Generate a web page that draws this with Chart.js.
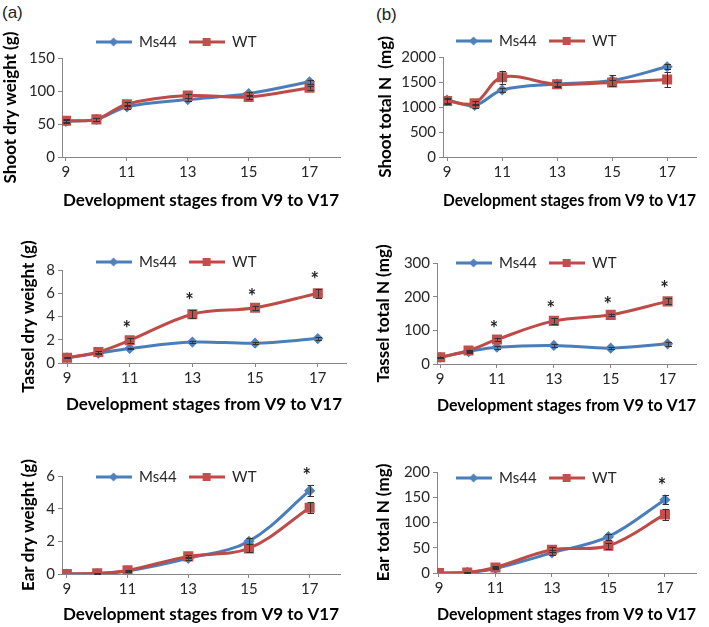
<!DOCTYPE html>
<html>
<head>
<meta charset="utf-8">
<script src="https://cdn.jsdelivr.net/npm/chart.js@4.4.1/dist/chart.umd.min.js"></script>
<style>
body{margin:0;background:#fff;width:709px;height:627px;position:relative;overflow:hidden;}
canvas{position:absolute;}
.tag{position:absolute;font-family:"Liberation Sans",Arial,sans-serif;font-size:17px;color:#222;line-height:20px;}
</style>
</head>
<body>
<div class="tag" style="left:2px;top:3px">(a)</div>
<div class="tag" style="left:376px;top:5px">(b)</div>
<canvas id="c_shoot_dw" width="354" height="210" style="left:0;top:0"></canvas>
<canvas id="c_shoot_n" width="355" height="210" style="left:354px;top:0"></canvas>
<canvas id="c_tassel_dw" width="354" height="205" style="left:0;top:210px"></canvas>
<canvas id="c_tassel_n" width="355" height="205" style="left:354px;top:210px"></canvas>
<canvas id="c_ear_dw" width="354" height="212" style="left:0;top:415px"></canvas>
<canvas id="c_ear_n" width="355" height="212" style="left:354px;top:415px"></canvas>
<script>
// -------- data
const stages = [9, 10, 11, 13, 15, 17];
const stage_ticks = [9, 11, 13, 15, 17];
const series_names = ['Ms44', 'WT'];
const x_title = 'Development stages from V9 to V17';

// shoot dry weight (g)
const shoot_dw_ms44 = [54, 57, 76, 87, 96, 114];
const shoot_dw_ms44_err = [2, 2, 3, 2, 3, 3];
const shoot_dw_wt = [55, 57, 80, 93, 91, 105];
const shoot_dw_wt_err = [2, 2, 3, 3, 3, 3];
const shoot_dw_sig = [];

// shoot total N (mg)
const shoot_n_ms44 = [1140, 1030, 1340, 1460, 1530, 1805];
const shoot_n_ms44_err = [50, 40, 40, 40, 110, 50];
const shoot_n_wt = [1120, 1075, 1595, 1455, 1490, 1550];
const shoot_n_wt_err = [50, 40, 130, 50, 60, 150];
const shoot_n_sig = [];

// tassel dry weight (g)
const tassel_dw_ms44 = [0.45, 0.85, 1.25, 1.8, 1.7, 2.1];
const tassel_dw_ms44_err = [0.05, 0.05, 0.08, 0.1, 0.1, 0.1];
const tassel_dw_wt = [0.45, 0.95, 1.95, 4.2, 4.75, 6.0];
const tassel_dw_wt_err = [0.05, 0.08, 0.2, 0.35, 0.18, 0.38];
const tassel_dw_sig = [11, 13, 15, 17];

// tassel total N (mg)
const tassel_n_ms44 = [20, 37, 50, 55, 47, 60];
const tassel_n_ms44_err = [2, 3, 4, 4, 3, 6];
const tassel_n_wt = [20, 40, 73, 128, 146, 186];
const tassel_n_wt_err = [2, 3, 5, 8, 4, 9];
const tassel_n_sig = [11, 13, 15, 17];

// ear dry weight (g)
const ear_dw_ms44 = [0, 0.03, 0.18, 0.96, 2.0, 5.1];
const ear_dw_ms44_err = [0, 0.01, 0.03, 0.08, 0.18, 0.32];
const ear_dw_wt = [0, 0.04, 0.22, 1.08, 1.57, 4.06];
const ear_dw_wt_err = [0, 0.01, 0.03, 0.08, 0.25, 0.34];
const ear_dw_sig = [17];

// ear total N (mg)
const ear_n_ms44 = [0, 1, 9, 40, 72, 145];
const ear_n_ms44_err = [0, 1, 2, 5, 6, 9];
const ear_n_wt = [0, 1, 11, 46, 54, 116];
const ear_n_wt_err = [0, 1, 2, 5, 6, 11];
const ear_n_sig = [17];

// -------- styles
const line_colors = ['#4A7EBB', '#BE4B48'];
const marker_colors = ['#4F81BD', '#C0504D'];
const marker_styles = ['rectRot', 'rect'];
const marker_sizes = [3.5, 5];
const axis_color = '#868686';
const text_color = '#262626';
const font_family = 'Lato, "Open Sans", sans-serif';
const title_size = 17;
const legend_size = 15;

function legend_icon(i){
	var c = document.createElement('canvas');
	c.width = 36; c.height = 12;
	var ctx = c.getContext('2d');
	ctx.strokeStyle = line_colors[i];
	ctx.lineWidth = 3;
	ctx.beginPath(); ctx.moveTo(0, 6); ctx.lineTo(36, 6); ctx.stroke();
	ctx.fillStyle = marker_colors[i];
	if(marker_styles[i] == 'rect'){
		ctx.fillRect(14, 2, 8, 8);
	} else {
		ctx.beginPath(); ctx.moveTo(18, 1.5); ctx.lineTo(22.5, 6); ctx.lineTo(18, 10.5); ctx.lineTo(13.5, 6); ctx.closePath(); ctx.fill();
	}
	return c;
}

// error bars + significance stars, drawn from the y scale
const error_bars = {
	id: 'error_bars',
	afterDatasetsDraw(chart, args, opts){
		var ctx = chart.ctx;
		var ys = chart.scales.y;
		ctx.save();
		ctx.strokeStyle = '#333';
		ctx.lineWidth = 1;
		chart.data.datasets.forEach(function(ds, i){
			var meta = chart.getDatasetMeta(i);
			meta.data.forEach(function(pt, j){
				var e = ds.err[j];
				if(!e) return;
				var v = ds.data[j].y;
				var top = ys.getPixelForValue(v + e);
				var bot = ys.getPixelForValue(v - e);
				var x = Math.round(pt.x) + 0.5;
				ctx.beginPath();
				ctx.moveTo(x, top); ctx.lineTo(x, bot);
				ctx.moveTo(x - 3, Math.round(top) + 0.5); ctx.lineTo(x + 3.5, Math.round(top) + 0.5);
				ctx.moveTo(x - 3, Math.round(bot) + 0.5); ctx.lineTo(x + 3.5, Math.round(bot) + 0.5);
				ctx.stroke();
			});
		});
		ctx.fillStyle = '#222';
		ctx.font = 'bold 20px ' + font_family;
		ctx.textAlign = 'center';
		ctx.textBaseline = 'alphabetic';
		(opts.sig || []).forEach(function(s){
			var j = stages.indexOf(s);
			var top = Infinity;
			chart.data.datasets.forEach(function(ds){
				top = Math.min(top, ys.getPixelForValue(ds.data[j].y + ds.err[j]));
			});
			ctx.fillText('*', chart.scales.x.getPixelForValue(s) - 3, top - 2);
		});
		ctx.restore();
	}
};

// legend sits at a fixed height, centred where the original has it
const legend_fix = {
	id: 'legend_fix',
	beforeUpdate(chart){
		var lg = chart.legend;
		if(lg && !lg.fit_fixed){
			var fit = lg.fit;
			lg.fit = function(){
				fit.call(this);
				this.height = chart.options.plugins.legend_fix.height;
			};
			lg.fit_fixed = true;
		}
	},
	afterLayout(chart, args, opts){
		chart.legend.left = 0;
		chart.legend.right = 2 * opts.center_x;
		chart.legend.bottom = chart.height;
	}
};

function make_panel(id, y_title, y_max, y_step, ms44, ms44_err, wt, wt_err, sig, box){
	var canvas = document.getElementById(id);
	var w = canvas.width, h = canvas.height;
	var legend_pad = 12;
	var pad_top = box.legend_y - legend_pad - legend_size / 2;
	var half_title = title_size * 0.6;
	var values = [ms44, wt];
	var errs = [ms44_err, wt_err];
	var datasets = series_names.map(function(name, i){
		return {
			label: name,
			data: values[i].map(function(v, j){ return {x: stages[j], y: v}; }),
			err: errs[i],
			icon: legend_icon(i),
			borderColor: line_colors[i],
			backgroundColor: marker_colors[i],
			pointBackgroundColor: marker_colors[i],
			pointBorderColor: marker_colors[i],
			pointStyle: marker_styles[i],
			pointRadius: marker_sizes[i],
			borderWidth: 3,
			tension: 0.35,
			fill: false,
			order: 2 - i
		};
	});
	var tick_font = {family: font_family, size: 15};
	var title_font = {family: font_family, size: title_size, weight: 'bold'};
	new Chart(canvas, {
		type: 'line',
		data: {datasets: datasets},
		plugins: [error_bars, legend_fix],
		options: {
			responsive: false,
			animation: false,
			devicePixelRatio: 1,
			layout: {padding: {top: pad_top, left: 0, right: w - box.right, bottom: 0}},
			plugins: {
				tooltip: {enabled: false},
				error_bars: {sig: sig},
				legend_fix: {height: box.top - pad_top, center_x: box.legend_x},
				legend: {
					display: true,
					position: 'top',
					labels: {
						usePointStyle: true,
						pointStyleWidth: 36,
						padding: legend_pad,
						color: text_color,
						font: {family: font_family, size: legend_size},
						generateLabels: function(chart){
							return chart.data.datasets.map(function(ds, i){
								return {text: ds.label, pointStyle: ds.icon, datasetIndex: i, fontColor: text_color,
									fillStyle: 'rgba(0,0,0,0)', strokeStyle: 'rgba(0,0,0,0)', lineWidth: 0, hidden: false};
							});
						}
					}
				}
			},
			scales: {
				x: {
					type: 'linear',
					min: box.x_min,
					max: box.x_max,
					afterBuildTicks: function(s){ s.ticks = stage_ticks.map(function(v){ return {value: v}; }); },
					afterFit: function(s){ s.height = h - box.bottom; },
					grid: {display: true, drawOnChartArea: false, drawTicks: true, tickLength: 4, color: axis_color},
					border: {display: true, color: axis_color, width: 1},
					ticks: {font: tick_font, color: text_color, padding: 2, maxRotation: 0, autoSkip: false},
					title: {display: true, text: x_title, color: '#000', font: title_font, padding: {top: 0, bottom: h - half_title - box.title_y}}
				},
				y: {
					min: 0,
					max: y_max,
					afterFit: function(s){ s.width = box.left; },
					grid: {display: true, drawOnChartArea: false, drawTicks: true, tickLength: 4, color: axis_color},
					border: {display: true, color: axis_color, width: 1},
					ticks: {stepSize: y_step, font: tick_font, color: text_color, padding: 3,
						callback: function(v){ return String(v); }},
					title: {display: true, text: y_title, color: '#000', font: title_font, padding: {top: box.y_title_x - half_title, bottom: 0}}
				}
			}
		}
	});
}

make_panel('c_shoot_dw', 'Shoot dry weight (g)', 150, 50, shoot_dw_ms44, shoot_dw_ms44_err, shoot_dw_wt, shoot_dw_wt_err, shoot_dw_sig,
	{left: 62, right: 340, top: 58, bottom: 157, legend_y: 42, legend_x: 176, y_title_x: 11, title_y: 201, x_min: 8.87, x_max: 18});
make_panel('c_shoot_n', 'Shoot total N  (mg)', 2000, 500, shoot_n_ms44, shoot_n_ms44_err, shoot_n_wt, shoot_n_wt_err, shoot_n_sig,
	{left: 89, right: 342, top: 57, bottom: 157, legend_y: 41, legend_x: 182, y_title_x: 32, title_y: 201, x_min: 8.85, x_max: 18.05});
make_panel('c_tassel_dw', 'Tassel dry weight (g)', 8, 2, tassel_dw_ms44, tassel_dw_ms44_err, tassel_dw_wt, tassel_dw_wt_err, tassel_dw_sig,
	{left: 62, right: 346, top: 60, bottom: 153, legend_y: 52, legend_x: 176, y_title_x: 29, title_y: 195, x_min: 8.84, x_max: 17.9});
make_panel('c_tassel_n', 'Tassel total N (mg)', 300, 100, tassel_n_ms44, tassel_n_ms44_err, tassel_n_wt, tassel_n_wt_err, tassel_n_sig,
	{left: 83, right: 342, top: 53, bottom: 154, legend_y: 53, legend_x: 182, y_title_x: 30, title_y: 196, x_min: 8.89, x_max: 18});
make_panel('c_ear_dw', 'Ear dry weight (g)', 6, 2, ear_dw_ms44, ear_dw_ms44_err, ear_dw_wt, ear_dw_wt_err, ear_dw_sig,
	{left: 62, right: 340, top: 61, bottom: 159, legend_y: 62, legend_x: 176, y_title_x: 29, title_y: 200, x_min: 8.84, x_max: 18});
make_panel('c_ear_n', 'Ear total N (mg)', 200, 50, ear_n_ms44, ear_n_ms44_err, ear_n_wt, ear_n_wt_err, ear_n_sig,
	{left: 83, right: 342, top: 57, bottom: 158, legend_y: 63, legend_x: 182, y_title_x: 30, title_y: 200, x_min: 8.93, x_max: 18.1});
</script>
</body>
</html>
